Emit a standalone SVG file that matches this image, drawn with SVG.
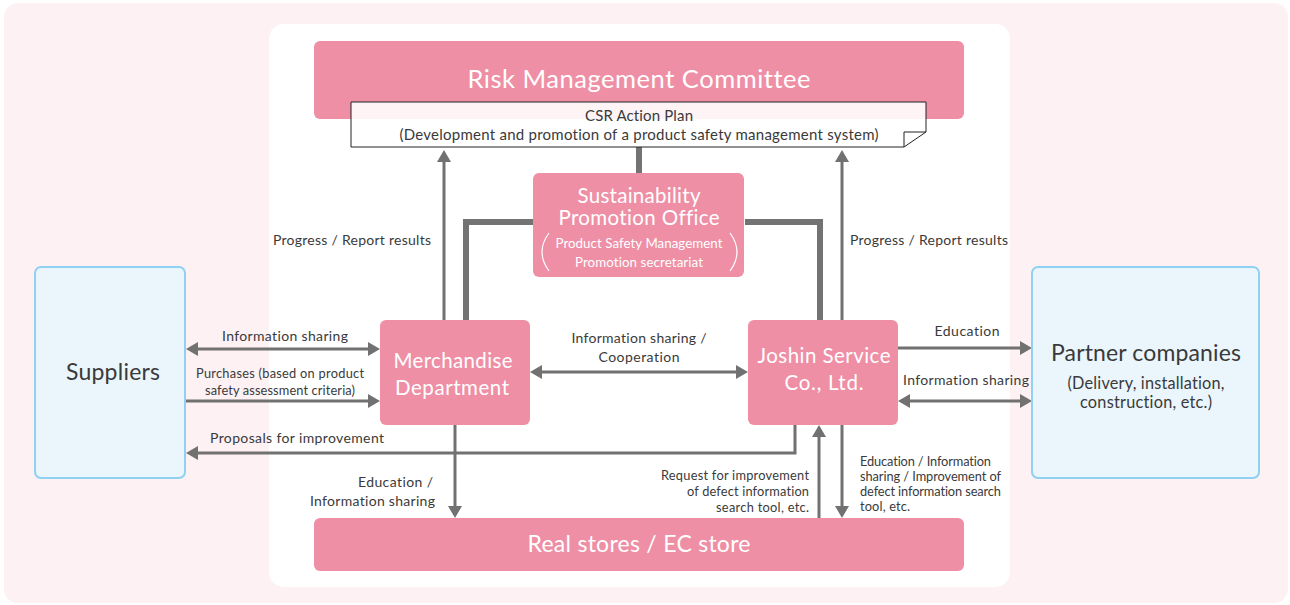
<svg xmlns="http://www.w3.org/2000/svg" width="1290" height="605" viewBox="0 0 1290 605">
<defs>
<marker id="ah" viewBox="0 0 12 14" refX="2" refY="7" markerWidth="12" markerHeight="14" markerUnits="userSpaceOnUse" orient="auto-start-reverse">
<path d="M0,0 L12,7 L0,14 z" fill="#717171"/>
</marker>
<style>
text{font-variant-ligatures:none;}
.pink{fill:#ee8fa6;}
.blue{fill:#eaf5fc;stroke:#8fd1f2;stroke-width:2;}
.wt{fill:#fff;font-family:Lato,"Noto Sans",sans-serif;text-anchor:middle;}
.dk{fill:#3a3a3a;font-family:Lato,"Noto Sans",sans-serif;}
.lbl{fill:#3a3a3a;font-family:Lato,"Noto Sans",sans-serif;font-size:14px;}
.sm{fill:#3a3a3a;font-family:Lato,"Noto Sans",sans-serif;font-size:12.8px;}
.ar{stroke:#717171;stroke-width:3;fill:none;}
.thick{stroke:#737373;stroke-width:6;fill:none;}
</style>
</defs>
<rect x="4" y="3" width="1284" height="600" rx="14" fill="#fdf1f3"/>
<rect x="269" y="24" width="741" height="563" rx="15" fill="#fff"/>

<g id="connectors">
<path class="thick" d="M639,147 V173"/>
<path class="thick" d="M533,222 H466 V320"/>
<path class="thick" d="M745,222 H820 V320"/>
<path class="ar" d="M444,320 V160" marker-end="url(#ah)"/>
<path class="ar" d="M842,320 V160" marker-end="url(#ah)"/>
<path class="ar" d="M196,349 H370" marker-start="url(#ah)" marker-end="url(#ah)"/>
<path class="ar" d="M186,401 H370" marker-end="url(#ah)"/>
<path class="ar" d="M795,425 V453 H196" marker-end="url(#ah)"/>
<path class="ar" d="M540,372 H738" marker-start="url(#ah)" marker-end="url(#ah)"/>
<path class="ar" d="M455,425 V508" marker-end="url(#ah)"/>
<path class="ar" d="M819,518 V435" marker-end="url(#ah)"/>
<path class="ar" d="M842,425 V508" marker-end="url(#ah)"/>
<path class="ar" d="M898,348 H1022" marker-end="url(#ah)"/>
<path class="ar" d="M908,401 H1022" marker-start="url(#ah)" marker-end="url(#ah)"/>
<text class="lbl" x="431" y="245" text-anchor="end" textLength="158" lengthAdjust="spacing">Progress / Report results</text>
<text class="lbl" x="850" y="245" textLength="158" lengthAdjust="spacing">Progress / Report results</text>
<text class="lbl" x="285" y="341" text-anchor="middle" textLength="126" lengthAdjust="spacing">Information sharing</text>
<text class="sm" x="280" y="378" text-anchor="middle" textLength="168" lengthAdjust="spacing">Purchases (based on product</text>
<text class="sm" x="280" y="395" text-anchor="middle" textLength="150" lengthAdjust="spacing">safety assessment criteria)</text>
<text class="lbl" x="210" y="443" textLength="174" lengthAdjust="spacing">Proposals for improvement</text>
<text class="lbl" x="639" y="343" text-anchor="middle" textLength="135" lengthAdjust="spacing">Information sharing /</text>
<text class="lbl" x="639" y="362" text-anchor="middle" textLength="81" lengthAdjust="spacing">Cooperation</text>
<text class="lbl" x="433" y="487" text-anchor="end" textLength="75" lengthAdjust="spacing">Education /</text>
<text class="lbl" x="435" y="506" text-anchor="end" textLength="125" lengthAdjust="spacing">Information sharing</text>
<text class="sm" x="809" y="480" text-anchor="end" textLength="148" lengthAdjust="spacing">Request for improvement</text>
<text class="sm" x="809" y="496" text-anchor="end" textLength="122" lengthAdjust="spacing">of defect information</text>
<text class="sm" x="809" y="512" text-anchor="end" textLength="93" lengthAdjust="spacing">search tool, etc.</text>
<text class="sm" x="860" y="466" textLength="131" lengthAdjust="spacing">Education / Information</text>
<text class="sm" x="860" y="481" textLength="141" lengthAdjust="spacing">sharing / Improvement of</text>
<text class="sm" x="860" y="496" textLength="141" lengthAdjust="spacing">defect information search</text>
<text class="sm" x="860" y="511" textLength="50" lengthAdjust="spacing">tool, etc.</text>
<text class="lbl" x="967" y="336" text-anchor="middle" textLength="65" lengthAdjust="spacing">Education</text>
<text class="lbl" x="903" y="385" textLength="126" lengthAdjust="spacing">Information sharing</text>
</g>

<g id="risk">
<rect class="pink" x="314" y="41" width="650" height="78" rx="6"/>
<text class="wt" x="639" y="88" font-size="25.5" textLength="343" lengthAdjust="spacing">Risk Management Committee</text>
</g>

<g id="csr">
<path d="M351,102 H926 V132 L904,147 H351 Z" fill="#fff" fill-opacity="0.9" stroke="#222" stroke-width="1"/>
<path d="M904,147 V132 H926" fill="none" stroke="#222" stroke-width="1"/>
<text class="dk" x="639" y="121" font-size="15" text-anchor="middle" textLength="108" lengthAdjust="spacing">CSR Action Plan</text>
<text class="dk" x="639" y="140" font-size="15" text-anchor="middle" textLength="479" lengthAdjust="spacing">(Development and promotion of a product safety management system)</text>
</g>

<g id="sustainability">
<rect class="pink" x="533" y="173" width="211" height="104" rx="6"/>
<text class="wt" x="639" y="203" font-size="20.5" textLength="123" lengthAdjust="spacing">Sustainability</text>
<text class="wt" x="639" y="225" font-size="20.5" textLength="161" lengthAdjust="spacing">Promotion Office</text>
<text class="wt" x="639" y="248" font-size="13.3" textLength="167" lengthAdjust="spacing">Product Safety Management</text>
<text class="wt" x="639" y="267" font-size="13.3" textLength="128" lengthAdjust="spacing">Promotion secretariat</text>
<path d="M549,233 Q535,252 549,271" fill="none" stroke="#fff" stroke-width="1.2"/>
<path d="M730,233 Q744,252 730,271" fill="none" stroke="#fff" stroke-width="1.2"/>
</g>

<g id="merchandise">
<rect class="pink" x="380" y="320" width="150" height="105" rx="6"/>
<text class="wt" x="453" y="368" font-size="20.5" textLength="119" lengthAdjust="spacing">Merchandise</text>
<text class="wt" x="452" y="395" font-size="20.5" textLength="114" lengthAdjust="spacing">Department</text>
</g>

<g id="joshin">
<rect class="pink" x="748" y="320" width="150" height="105" rx="6"/>
<text class="wt" x="824" y="363" font-size="20.5" textLength="133" lengthAdjust="spacing">Joshin Service</text>
<text class="wt" x="824" y="390" font-size="20.5" textLength="79" lengthAdjust="spacing">Co., Ltd.</text>
</g>

<g id="stores">
<rect class="pink" x="314" y="518" width="650" height="53" rx="6"/>
<text class="wt" x="639" y="552" font-size="23" textLength="223" lengthAdjust="spacing">Real stores / EC store</text>
</g>

<g id="suppliers">
<rect class="blue" x="35" y="267" width="150" height="211" rx="6"/>
<text class="dk" x="113" y="380" font-size="23" text-anchor="middle" textLength="94" lengthAdjust="spacing">Suppliers</text>
</g>

<g id="partners">
<rect class="blue" x="1032" y="267" width="227" height="211" rx="6"/>
<text class="dk" x="1146" y="361" font-size="23" text-anchor="middle" textLength="190" lengthAdjust="spacing">Partner companies</text>
<text class="dk" x="1146" y="389" font-size="16.3" text-anchor="middle" textLength="157" lengthAdjust="spacing">(Delivery, installation,</text>
<text class="dk" x="1146" y="408" font-size="16.3" text-anchor="middle" textLength="132" lengthAdjust="spacing">construction, etc.)</text>
</g>
</svg>
